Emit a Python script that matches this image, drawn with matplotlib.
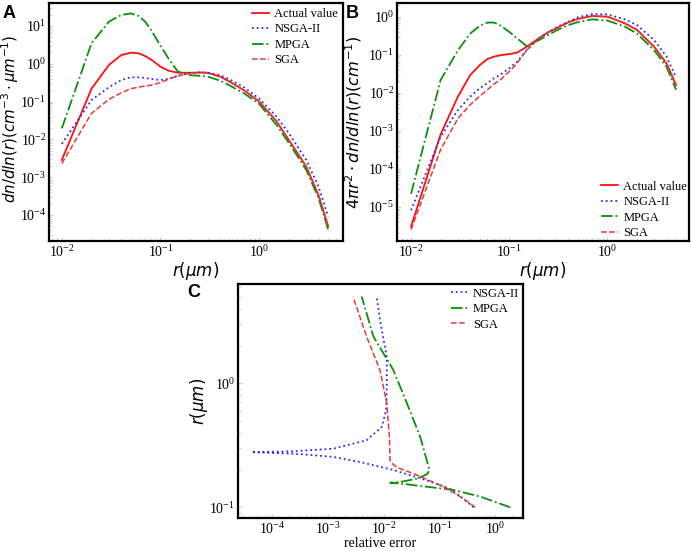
import matplotlib
matplotlib.use('Agg')
import matplotlib.pyplot as plt

plt.rcParams['font.family'] = 'serif'
plt.rcParams['font.serif'] = ['Liberation Serif', 'DejaVu Serif']
plt.rcParams['mathtext.fontset'] = 'dejavusans'

# radius grid shared by panels A and B (um)
r_grid = [0.01, 0.02, 0.03, 0.04, 0.05, 0.06, 0.07, 0.08, 0.1, 0.12, 0.15, 0.2,
          0.25, 0.3, 0.4, 0.5, 0.7, 1.0, 1.5, 2.0, 3.0, 4.0, 5.0]

# panel A: dn/dln(r)
a_actual = [2.85e-3, 0.22, 0.93, 1.7, 1.97, 1.9, 1.6, 1.31, 0.84, 0.66, 0.58, 0.58,
            0.59, 0.58, 0.46, 0.34, 0.2, 0.1, 0.03, 9.6e-3, 1.9e-3, 3.3e-4, 5e-5]
a_nsga = [7.6e-3, 0.11, 0.24, 0.37, 0.44, 0.44, 0.42, 0.4, 0.37, 0.4, 0.48, 0.56,
          0.59, 0.58, 0.5, 0.39, 0.24, 0.12, 0.04, 0.0145, 2.85e-3, 5.6e-4, 9e-5]
a_mpga = [0.0195, 3.5, 13.0, 19.6, 21.6, 18.4, 13.0, 8.0, 3.0, 1.4, 0.62, 0.5,
          0.48, 0.46, 0.36, 0.27, 0.166, 0.087, 0.024, 8.1e-3, 1.55e-3, 2.8e-4, 4.1e-5]
a_sga = [2.3e-3, 0.049, 0.115, 0.17, 0.22, 0.24, 0.26, 0.27, 0.32, 0.39, 0.48, 0.56,
         0.59, 0.58, 0.46, 0.34, 0.2, 0.1, 0.03, 9.6e-3, 1.9e-3, 3.3e-4, 4.9e-5]

# panel B: 4 pi r^2 dn/dln(r)
b_actual = [3e-6, 8e-4, 7.9e-3, 0.029, 0.053, 0.077, 0.089, 0.096, 0.104, 0.113, 0.16, 0.27,
            0.39, 0.49, 0.71, 0.87, 1.04, 1.0, 0.67, 0.45, 0.16, 0.059, 0.016]
b_nsga = [8.1e-6, 6.9e-4, 3.5e-3, 7.9e-3, 0.013, 0.018, 0.024, 0.029, 0.044, 0.065, 0.13, 0.27,
          0.39, 0.52, 0.74, 0.96, 1.17, 1.15, 0.85, 0.6, 0.24, 0.089, 0.025]
b_mpga = [2.2e-5, 0.0215, 0.13, 0.36, 0.57, 0.7, 0.7, 0.6, 0.40, 0.27, 0.17, 0.24,
          0.33, 0.43, 0.6, 0.72, 0.85, 0.79, 0.55, 0.36, 0.13, 0.048, 0.012]
b_sga = [2.5e-6, 3.2e-4, 2.1e-3, 4.8e-3, 8.1e-3, 0.012, 0.017, 0.021, 0.036, 0.059, 0.13, 0.27,
         0.39, 0.49, 0.71, 0.87, 1.04, 1.0, 0.67, 0.45, 0.16, 0.058, 0.015]

# panel C: relative error vs r
c_nsga_r = [0.1, 0.12, 0.141, 0.165, 0.2, 0.232, 0.255, 0.271, 0.278, 0.283, 0.297,
            0.347, 0.445, 0.605, 1.0, 1.63, 3.0, 5.0]
c_nsga_err = [0.41, 0.25, 0.155, 0.059, 0.0148, 3.7e-3, 1.24e-3, 2.35e-4, 4.2e-5, 2.35e-4, 1.24e-3,
              4.9e-3, 9.2e-3, 0.011, 0.0113, 0.0113, 8.8e-3, 7.4e-3]
c_mpga_r = [0.1, 0.122, 0.138, 0.151, 0.154, 0.158, 0.16, 0.17, 0.185, 0.2, 0.37, 0.69, 1.28, 2.38, 5.0]
c_mpga_err = [1.86, 0.54, 0.178, 0.034, 0.024, 0.013, 0.0196, 0.039, 0.06, 0.066, 0.045, 0.026,
              0.0148, 6.5e-3, 4.0e-3]
c_sga_r = [0.1, 0.12, 0.147, 0.187, 0.21, 0.23, 0.24, 0.37, 0.69, 1.28, 2.38, 4.97]
c_sga_err = [0.44, 0.25, 0.117, 0.034, 0.017, 0.0135, 0.0129, 0.0126, 0.0113, 8.5e-3, 4.9e-3, 2.8e-3]

labels = ['Actual value', 'NSGA-II', 'MPGA', 'SGA']
c_actual = '#ff1010'
c_nsga = '#2a2aff'
c_mpga = '#0a900a'
c_sga = '#e03c3c'


def style_axes(ax):
    ax.set_xscale('log')
    ax.set_yscale('log')
    for sp in ax.spines.values():
        sp.set_linewidth(1.6)
    ax.tick_params(which='both', direction='in', color='#c8c8c8', width=0.6,
                   labelsize=10, pad=2)
    ax.tick_params(which='major', length=3)
    ax.tick_params(which='minor', length=2)


def add_legend(ax, names, loc, pad):
    ax.legend(names, loc=loc, frameon=False, fontsize=9, handlelength=1.35,
              handletextpad=0.45, labelspacing=0.28, borderaxespad=pad)


fig = plt.figure(figsize=(6.92, 5.51), dpi=100)

# panel A
ax1 = fig.add_axes([0.0708, 0.5626, 0.4249, 0.432])
ax1.plot(r_grid, a_actual, '-', color=c_actual, lw=1.3)
ax1.plot(r_grid, a_nsga, ':', color=c_nsga, lw=1.3)
ax1.plot(r_grid, a_mpga, '-.', color=c_mpga, lw=1.3)
ax1.plot(r_grid, a_sga, '--', color=c_sga, lw=1.1)
style_axes(ax1)
ax1.set_xlim(10**-2.13, 10**0.85)
ax1.set_ylim(10**-4.69, 10**1.61)
ax1.set_xlabel(r'$r(\mu m)$', fontsize=12, labelpad=0)
ax1.set_ylabel(r'$dn/dln(r)(cm^{-3}\cdot\mu m^{-1})$', fontsize=10.8)
ax1.yaxis.set_label_coords(-0.096, 0.513)
add_legend(ax1, labels, 'upper right', 0.0)

# panel B
ax2 = fig.add_axes([0.5737, 0.5626, 0.422, 0.432])
ax2.plot(r_grid, b_actual, '-', color=c_actual, lw=1.3)
ax2.plot(r_grid, b_nsga, ':', color=c_nsga, lw=1.3)
ax2.plot(r_grid, b_mpga, '-.', color=c_mpga, lw=1.3)
ax2.plot(r_grid, b_sga, '--', color=c_sga, lw=1.1)
style_axes(ax2)
ax2.set_xlim(10**-2.143, 10**0.831)
ax2.set_ylim(10**-5.9, 10**0.36)
ax2.set_xlabel(r'$r(\mu m)$', fontsize=12, labelpad=0)
ax2.set_ylabel(r'$4\pi r^2\cdot dn/dln(r)(cm^{-1})$', fontsize=11.7)
ax2.yaxis.set_label_coords(-0.112, 0.498)
add_legend(ax2, labels, 'lower right', -0.25)

# panel C
ax3 = fig.add_axes([0.3439, 0.0599, 0.4119, 0.4247])
ax3.plot(c_nsga_err, c_nsga_r, ':', color=c_nsga, lw=1.3)
ax3.plot(c_mpga_err, c_mpga_r, '-.', color=c_mpga, lw=1.3)
ax3.plot(c_sga_err, c_sga_r, '--', color=c_sga, lw=1.1)
style_axes(ax3)
ax3.set_xlim(10**-4.62, 10**0.50)
ax3.set_ylim(10**-1.086, 10**0.80)
ax3.set_xlabel('relative error', fontsize=10, labelpad=0)
ax3.set_ylabel(r'$r(\mu m)$', fontsize=12)
ax3.yaxis.set_label_coords(-0.098, 0.5)
add_legend(ax3, labels[1:], 'upper right', -0.1)

# panel letters
fig.text(0.004, 0.967, 'A', fontsize=13, fontweight='bold', family='Liberation Sans')
fig.text(0.499, 0.967, 'B', fontsize=13, fontweight='bold', family='Liberation Sans')
fig.text(0.270, 0.461, 'C', fontsize=13, fontweight='bold', family='Liberation Sans')

fig.savefig('out.png', dpi=100)
